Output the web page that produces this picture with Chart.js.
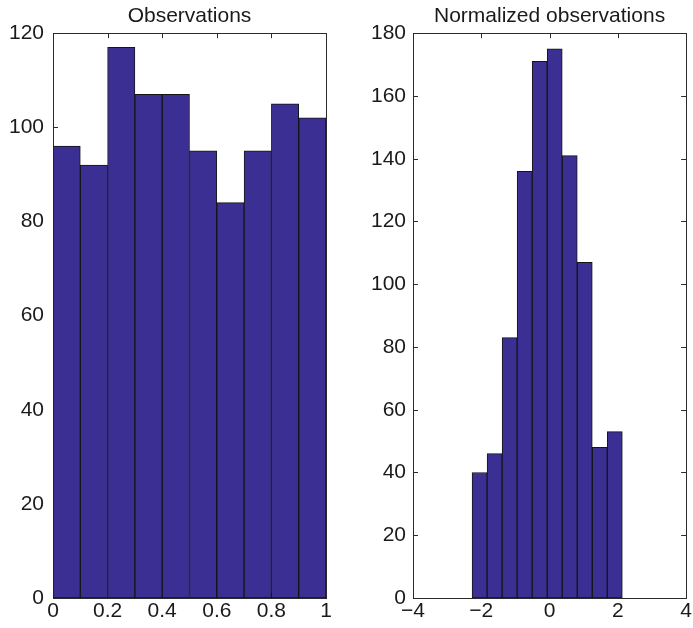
<!DOCTYPE html>
<html lang="en">
<head>
    <meta charset="UTF-8">
    <title>Histograms</title>
    <script src="https://cdn.jsdelivr.net/npm/chart.js"></script>
    <style>
        body { margin: 0; background: #fff; }
        .painel { position: absolute; top: 0; }
    </style>
</head>
<body>
    <canvas id="grafico_obs" class="painel" style="left: 0px;" width="340" height="628"></canvas>
    <canvas id="grafico_norm" class="painel" style="left: 340px;" width="353" height="628"></canvas>
</body>
</html>

<script>
    // raw observations: 10 bins between 0 and 1
    var bordas_obs = [0, 0.1, 0.2, 0.3, 0.4, 0.5, 0.6, 0.7, 0.8, 0.9, 1.0]
    var contagem_obs = [96, 92, 117, 107, 107, 95, 84, 95, 105, 102]

    // normalized observations: 10 bins of width 0.44
    var bordas_norm = [-2.27, -1.83, -1.39, -0.95, -0.51, -0.07, 0.37, 0.81, 1.25, 1.69, 2.13]
    var contagem_norm = [40, 46, 83, 136, 171, 175, 141, 107, 48, 53]

    var titulos = ["Observations", "Normalized observations"]

    var cor_barra = "rgb(60, 47, 147)"
    var fonte = { family: "'Liberation Sans', Arial, sans-serif", size: 21, weight: "normal" }

    Chart.defaults.color = "#1a1a1a"

    function pontos(bordas, contagem) {
        var lista = []
        for (var i = 0; i < contagem.length; i++) {
            lista.push({ x: (bordas[i] + bordas[i + 1]) / 2, y: contagem[i] })
        }
        return lista
    }

    // tick text: shortest form, real minus sign
    function rotulo(v) {
        return String(Math.round(v * 100) / 100).replace("-", "\u2212")
    }

    // box around the plot with inward ticks on all four sides,
    // and the title centred over the plot area instead of the canvas
    var caixa = {
        id: "caixa",
        afterLayout: function (chart) {
            var tb = chart.titleBlock
            if (tb) {
                tb.left = chart.chartArea.left
                tb.right = chart.chartArea.right
                tb.width = tb.right - tb.left
            }
        },
        beforeDatasetsDraw: function (chart) {
            var ctx = chart.ctx
            var a = chart.chartArea
            var sx = chart.scales.x
            var sy = chart.scales.y
            var t = 5
            ctx.save()
            ctx.strokeStyle = "#2a2a2a"
            ctx.lineWidth = 1
            ctx.beginPath()
            sx.ticks.forEach(function (tk) {
                var px = Math.round(sx.getPixelForValue(tk.value)) + 0.5
                ctx.moveTo(px, a.top); ctx.lineTo(px, a.top + t)
                ctx.moveTo(px, a.bottom); ctx.lineTo(px, a.bottom - t)
            })
            sy.ticks.forEach(function (tk) {
                var py = Math.round(sy.getPixelForValue(tk.value)) + 0.5
                ctx.moveTo(a.left, py); ctx.lineTo(a.left + t, py)
                ctx.moveTo(a.right, py); ctx.lineTo(a.right - t, py)
            })
            ctx.stroke()
            ctx.strokeRect(Math.round(a.left) + 0.5, Math.round(a.top) + 0.5,
                Math.round(a.right - a.left), Math.round(a.bottom - a.top))
            ctx.restore()
        }
    }

    function histograma(id, titulo, bordas, contagem, xmin, xmax, xpasso, ymax, largura_y, pad_y, pad_dir) {
        var ctx = document.getElementById(id).getContext("2d")
        return new Chart(ctx, {
            type: 'bar',
            data: {
                datasets: [{
                    data: pontos(bordas, contagem),
                    backgroundColor: cor_barra,
                    borderColor: "#151515",
                    borderWidth: 1,
                    borderSkipped: false,
                    barPercentage: 1,
                    categoryPercentage: 1
                }]
            },
            options: {
                responsive: false,
                animation: false,
                layout: { padding: { left: 0, right: pad_dir, top: 0, bottom: 0 } },
                plugins: {
                    legend: { display: false },
                    tooltip: { enabled: false },
                    title: {
                        display: true,
                        text: titulo,
                        font: fonte,
                        color: "#1a1a1a",
                        padding: { top: 4, bottom: 4 }
                    }
                },
                scales: {
                    x: {
                        type: 'linear',
                        offset: false,
                        min: xmin,
                        max: xmax,
                        grid: { display: false, drawTicks: false },
                        border: { display: false },
                        ticks: {
                            stepSize: xpasso,
                            font: fonte,
                            padding: 1,
                            maxRotation: 0,
                            callback: rotulo
                        },
                        afterFit: function (s) { s.height = 30 }
                    },
                    y: {
                        min: 0,
                        max: ymax,
                        grid: { display: false, drawTicks: false },
                        border: { display: false },
                        ticks: { stepSize: 20, font: fonte, padding: pad_y, callback: rotulo },
                        afterFit: function (s) { s.width = largura_y }
                    }
                }
            },
            plugins: [caixa]
        })
    }

    histograma("grafico_obs", titulos[0], bordas_obs, contagem_obs, 0, 1, 0.2, 120, 53, 9, 14)
    histograma("grafico_norm", titulos[1], bordas_norm, contagem_norm, -4, 4, 2, 180, 73, 7, 6)
</script>
